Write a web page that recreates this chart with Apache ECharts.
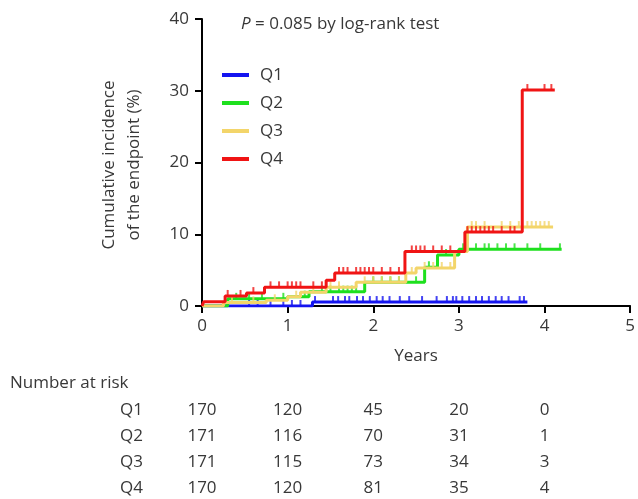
<!DOCTYPE html>
<html>
<head>
<meta charset="utf-8">
<script src="https://cdn.jsdelivr.net/npm/echarts@6/dist/echarts.min.js"></script>
<style>html,body{margin:0;padding:0;background:#fff}#c{width:638px;height:499px}</style>
</head>
<body>
<div id="c"></div>
<script>
// ---- data ----
var groups = ['Q1', 'Q2', 'Q3', 'Q4'];
var q1Times = [0, 1.29, 3.8];
var q1Values = [0, 0.55, 0.55];
var q2Times = [0, 0.3, 1.0, 1.25, 1.9, 2.6, 2.75, 3.0, 4.2];
var q2Values = [0, 1.0, 1.3, 2.0, 3.3, 5.4, 7.1, 7.9, 7.9];
var q3Times = [0, 0.25, 0.75, 1.0, 1.15, 1.45, 1.8, 2.38, 2.5, 2.95, 3.1, 4.1];
var q3Values = [0, 0.5, 0.8, 1.3, 1.9, 2.6, 3.3, 4.6, 5.3, 7.6, 11.0, 11.0];
var q4Times = [0, 0.02, 0.27, 0.52, 0.73, 1.45, 1.55, 2.37, 3.07, 3.74, 4.12];
var q4Values = [0, 0.6, 1.4, 1.8, 2.6, 3.6, 4.6, 7.6, 10.3, 30.1, 30.1];
// censoring times
var q1Censor = [0.55, 0.65, 0.8, 0.95, 1.05, 1.15, 1.32, 1.53, 1.59, 1.67, 1.72, 1.81, 1.88, 1.96, 2.04, 2.11, 2.19, 2.31, 2.42, 2.57, 2.74, 2.86, 2.93, 2.97, 3.04, 3.12, 3.2, 3.27, 3.35, 3.43, 3.5, 3.58, 3.71, 3.76];
var q2Censor = [0.4, 0.55, 0.7, 0.95, 1.2, 1.4, 1.5, 1.6, 1.65, 1.7, 1.75, 1.8, 2.0, 2.1, 2.2, 2.3, 2.5, 2.65, 2.85, 3.05, 3.2, 3.3, 3.35, 3.45, 3.55, 3.65, 3.8, 3.95, 4.18];
var q3Censor = [0.35, 0.6, 0.85, 1.1, 1.3, 1.5, 1.6, 1.9, 2.0, 2.1, 2.2, 2.3, 2.45, 2.6, 2.7, 2.8, 2.9, 3.15, 3.2, 3.3, 3.5, 3.6, 3.7, 3.8, 3.85, 3.9, 3.95, 4.0, 4.05];
var q4Censor = [0.3, 0.45, 0.6, 0.8, 0.9, 1.0, 1.05, 1.1, 1.15, 1.3, 1.4, 1.6, 1.65, 1.7, 1.8, 1.85, 1.9, 1.95, 2.0, 2.1, 2.2, 2.3, 2.45, 2.5, 2.55, 2.6, 2.7, 2.8, 2.9, 3.1, 3.15, 3.2, 3.25, 3.3, 3.35, 3.4, 3.5, 3.6, 3.65, 3.8, 4.0, 4.08];
var riskTimes = [0, 1, 2, 3, 4];
var riskQ1 = [170, 120, 45, 20, 0];
var riskQ2 = [171, 116, 70, 31, 1];
var riskQ3 = [171, 115, 73, 34, 3];
var riskQ4 = [170, 120, 81, 35, 4];
var xTicks = [0, 1, 2, 3, 4, 5];
var yTicks = [0, 10, 20, 30, 40];

var colors = ['#1414f0', '#1ee01e', '#f3d56a', '#f01414'];
var FONT = 'Open Sans';
var TXT = '#383838';

var allTimes = [q1Times, q2Times, q3Times, q4Times];
var allValues = [q1Values, q2Values, q3Values, q4Values];
var allCensor = [q1Censor, q2Censor, q3Censor, q4Censor];
var allRisk = [riskQ1, riskQ2, riskQ3, riskQ4];

function stepAt(times, values, t) {
  var v = values[0];
  for (var i = 0; i < times.length; i++) { if (times[i] <= t) v = values[i]; }
  return v;
}

var series = [];
groups.forEach(function (g, k) {
  series.push({
    name: g, type: 'line', step: 'end', showSymbol: false, symbol: 'none',
    data: allTimes[k].map(function (t, i) { return [t, allValues[k][i]]; }),
    lineStyle: { color: colors[k], width: 3 }, itemStyle: { color: colors[k] },
    z: 2 + k, animation: false
  });
});
groups.forEach(function (g, k) {
  series.push({
    name: g + ' censored', type: 'scatter', symbol: 'rect', symbolSize: [2, 6], symbolOffset: [0, -3],
    data: allCensor[k].map(function (t) { return [t, stepAt(allTimes[k], allValues[k], t)]; }),
    itemStyle: { color: colors[k] }, z: 2 + k, animation: false, silent: true
  });
});

var chart = echarts.init(document.getElementById('c'), null, { renderer: 'canvas' });
var option = {
  animation: false,
  backgroundColor: '#fff',
  textStyle: { fontFamily: FONT },
  grid: { left: 202, right: 7, top: 19, bottom: 193, containLabel: false },
  title: {
    text: '{i|P} = 0.085 by log-rank test', left: 241, top: 16, padding: 0,
    textStyle: { fontFamily: FONT, fontSize: 17, fontWeight: 'normal', color: TXT,
      rich: { i: { fontFamily: FONT, fontSize: 17, fontStyle: 'italic', color: TXT } } }
  },
  legend: {
    data: groups, orient: 'vertical', left: 222, top: 66, padding: 0, icon: 'rect', itemWidth: 27, itemHeight: 4,
    itemGap: 10,
    textStyle: { fontFamily: FONT, fontSize: 17, color: TXT, lineHeight: 18, padding: [0, 0, 0, 6] }
  },
  xAxis: {
    type: 'value', min: 0, max: 5, interval: 1,
    name: 'Years', nameLocation: 'middle', nameGap: 42,
    nameTextStyle: { fontFamily: FONT, fontSize: 17, color: TXT },
    axisLine: { show: true, lineStyle: { color: '#000', width: 2 } },
    axisTick: { show: true, length: 7, lineStyle: { color: '#000', width: 2 } },
    axisLabel: { fontFamily: FONT, fontSize: 17, color: TXT, margin: 12,
      formatter: function (v) { return xTicks.indexOf(v) >= 0 ? String(v) : ''; } },
    splitLine: { show: false }
  },
  yAxis: {
    type: 'value', min: 0, max: 40, interval: 10,
    axisLine: { show: true, lineStyle: { color: '#000', width: 2 } },
    axisTick: { show: true, length: 7, lineStyle: { color: '#000', width: 2 } },
    axisLabel: { fontFamily: FONT, fontSize: 17, color: TXT, margin: 13,
      formatter: function (v) { return yTicks.indexOf(v) >= 0 ? String(v) : ''; } },
    splitLine: { show: false }
  },
  series: series
};
chart.setOption(option);

var g = [];
g.push({ type: 'text', x: 122, y: 165, rotation: Math.PI / 2,
  style: { text: 'Cumulative incidence\nof the endpoint (%)', fontFamily: FONT, fontSize: 17, fill: TXT,
    align: 'center', verticalAlign: 'middle', lineHeight: 25 } });
g.push({ type: 'text', x: 10, y: 383,
  style: { text: 'Number at risk', fontFamily: FONT, fontSize: 17, fill: TXT, align: 'left', verticalAlign: 'middle' } });
var rowY = [410, 436, 462, 488];
groups.forEach(function (name, k) {
  g.push({ type: 'text', x: 120, y: rowY[k],
    style: { text: name, fontFamily: FONT, fontSize: 17, fill: TXT, align: 'left', verticalAlign: 'middle' } });
  riskTimes.forEach(function (t, i) {
    var px = chart.convertToPixel({ xAxisIndex: 0 }, t);
    g.push({ type: 'text', x: px, y: rowY[k],
      style: { text: String(allRisk[k][i]), fontFamily: FONT, fontSize: 17, fill: TXT, align: 'center', verticalAlign: 'middle' } });
  });
});
chart.setOption({ graphic: g });
</script>
</body>
</html>
